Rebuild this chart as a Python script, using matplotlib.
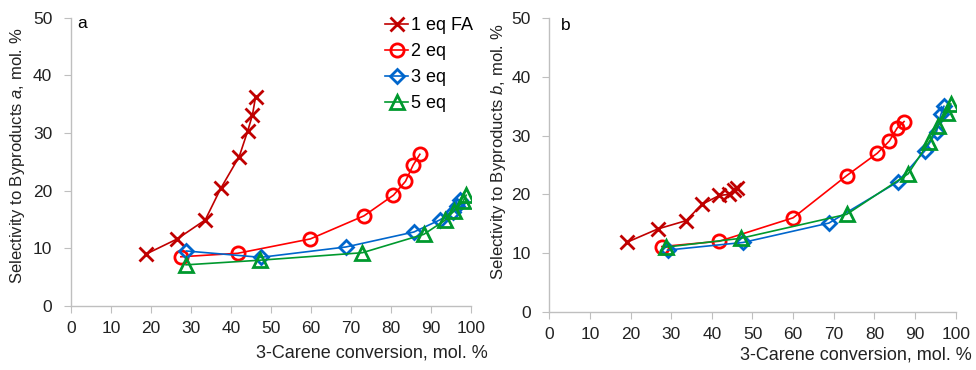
import matplotlib
matplotlib.use('Agg')
import matplotlib.pyplot as plt

plt.rcParams['font.family'] = ['Liberation Sans', 'DejaVu Sans']
plt.rcParams['mathtext.fontset'] = 'custom'
plt.rcParams['mathtext.rm'] = 'Liberation Sans'
plt.rcParams['mathtext.it'] = 'Liberation Sans:italic'

# --- data ---
series_labels = ['1 eq FA', '2 eq', '3 eq', '5 eq']

# panel a
a_x_1eq = [18.9, 26.6, 33.6, 37.5, 42.1, 44.2, 45.4, 46.2]
a_y_1eq = [9.0, 11.6, 14.9, 20.4, 25.9, 30.3, 33.1, 36.3]
a_x_2eq = [27.5, 41.7, 59.9, 73.3, 80.7, 83.7, 85.6, 87.3]
a_y_2eq = [8.5, 9.1, 11.6, 15.6, 19.2, 21.6, 24.4, 26.3]
a_x_3eq = [28.9, 47.5, 68.8, 85.8, 92.3, 95.5, 96.5, 97.3]
a_y_3eq = [9.5, 8.4, 10.2, 12.8, 14.9, 16.3, 17.3, 18.4]
a_x_5eq = [28.8, 47.3, 72.9, 88.3, 93.5, 95.8, 98.1, 98.9]
a_y_5eq = [7.1, 7.9, 9.2, 12.4, 14.8, 16.4, 18.1, 19.2]

# panel b
b_x_1eq = [19.0, 26.7, 33.6, 37.6, 41.8, 44.3, 45.5, 46.1]
b_y_1eq = [11.8, 14.1, 15.5, 18.3, 19.8, 20.0, 20.8, 21.0]
b_x_2eq = [27.7, 41.8, 60.0, 73.2, 80.7, 83.7, 85.6, 87.3]
b_y_2eq = [11.1, 12.0, 16.0, 23.2, 27.0, 29.1, 31.3, 32.4]
b_x_3eq = [29.1, 47.7, 68.8, 85.7, 92.4, 95.3, 96.4, 97.1]
b_y_3eq = [10.5, 11.8, 15.1, 22.1, 27.4, 30.7, 33.7, 35.0]
b_x_5eq = [28.7, 47.1, 73.2, 88.3, 93.5, 95.7, 97.8, 98.8]
b_y_5eq = [11.0, 12.5, 16.6, 23.5, 29.0, 31.7, 33.9, 35.4]

x_ticks = list(range(0, 101, 10))
y_ticks = list(range(0, 51, 10))

colors = ['#C00000', '#FF0000', '#0066CC', '#00992E']
markers = ['x', 'o', 'D', '^']
msizes = [10, 9.5, 7, 9.5]

fig = plt.figure(figsize=(9.76, 3.7), dpi=100)
ax_a = fig.add_axes([0.0727, 0.1738, 0.4095, 0.778])
ax_b = fig.add_axes([0.5628, 0.1576, 0.4164, 0.793])

panels = [
    (ax_a, [(a_x_1eq, a_y_1eq), (a_x_2eq, a_y_2eq), (a_x_3eq, a_y_3eq), (a_x_5eq, a_y_5eq)]),
    (ax_b, [(b_x_1eq, b_y_1eq), (b_x_2eq, b_y_2eq), (b_x_3eq, b_y_3eq), (b_x_5eq, b_y_5eq)]),
]

grey = '#BFBFBF'
txt = '#222222'
for ax, data in panels:
    for (xs, ys), lab, c, m, ms in zip(data, series_labels, colors, markers, msizes):
        ax.plot(xs, ys, color=c, lw=1.2, marker=m, ms=ms, mfc='none',
                mec=c, mew=2.0, label=lab)
    ax.set_xlim(0, 100)
    ax.set_ylim(0, 50)
    ax.set_xticks(x_ticks)
    ax.set_yticks(y_ticks)
    for s in ['top', 'right']:
        ax.spines[s].set_visible(False)
    for s in ['left', 'bottom']:
        ax.spines[s].set_color(grey)
        ax.spines[s].set_linewidth(1.0)
    ax.tick_params(axis='both', direction='out', length=5, color=grey,
                   labelsize=12.5, labelcolor=txt)
    ax.tick_params(axis='x', pad=6)
    ax.tick_params(axis='y', pad=8.5)

ax_a.set_ylabel('Selectivity to Byproducts $\\it{a}$, mol. %', fontsize=12, color=txt)
ax_a.yaxis.set_label_coords(-0.110, 0.52)
ax_b.set_ylabel('Selectivity to Byproducts $\\it{b}$, mol. %', fontsize=12, color=txt)
ax_b.yaxis.set_label_coords(-0.102, 0.546)

ax_a.text(1.043, -0.166, '3-Carene conversion, mol. %', transform=ax_a.transAxes,
          ha='right', va='center', fontsize=13, color=txt)
ax_b.text(1.040, -0.146, '3-Carene conversion, mol. %', transform=ax_b.transAxes,
          ha='right', va='center', fontsize=13, color=txt)

ax_a.text(0.017, 0.982, 'a', transform=ax_a.transAxes, ha='left', va='center', fontsize=12.5)
ax_b.text(0.028, 0.974, 'b', transform=ax_b.transAxes, ha='left', va='center', fontsize=12.5)

ax_a.legend(loc='upper left', bbox_to_anchor=(385 / 976, 1 - 17 / 370),
            bbox_transform=fig.transFigure, frameon=False, fontsize=13,
            handlelength=1.3, handletextpad=0.15, labelspacing=0.5,
            borderpad=0, borderaxespad=0)

fig.savefig('out.png', dpi=100)
